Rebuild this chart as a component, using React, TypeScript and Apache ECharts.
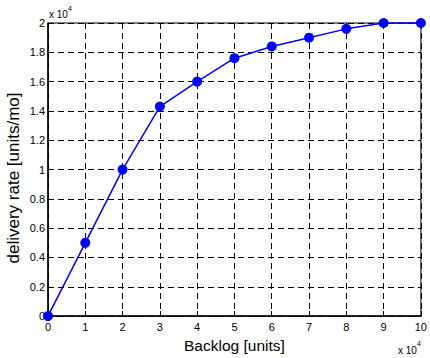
import React, { useEffect, useRef } from "react";
import * as echarts from "echarts";

const xTicks = [0, 1, 2, 3, 4, 5, 6, 7, 8, 9, 10];
const backlog = [0, 1, 2, 3, 4, 5, 6, 7, 8, 9, 10];
const deliveryRate = [0, 0.5, 1.0, 1.43, 1.6, 1.76, 1.84, 1.9, 1.96, 2.0, 2.0];

const FONT = "'Liberation Sans', Arial, Helvetica, sans-serif";

export default function App() {
  const ref = useRef<HTMLDivElement>(null);
  useEffect(() => {
    if (!ref.current) return;
    const chart = echarts.init(ref.current, null, { renderer: "svg" });
    const dash = { color: "#000", width: 1, type: [6, 4] as any };
    const txt = (text: string, x: number, y: number, size: number, extra: any = {}) => ({
      type: "text",
      x,
      y,
      style: {
        text,
        fontSize: size,
        fontFamily: FONT,
        fill: "#000",
        textAlign: "left",
        textVerticalAlign: "middle",
        ...extra,
      },
    });
    chart.setOption({
      animation: false,
      backgroundColor: "#fff",
      textStyle: { fontFamily: FONT },
      grid: {
        left: 48,
        right: 8,
        top: 23,
        bottom: 40,
        show: true,
        borderColor: "#000",
        borderWidth: 1,
        backgroundColor: "transparent",
      },
      xAxis: {
        type: "value",
        min: 0,
        max: 10,
        interval: 1,
        name: "Backlog [units]",
        nameLocation: "middle",
        nameGap: 18,
        nameTextStyle: { fontSize: 15.5, color: "#000", fontFamily: FONT },
        axisLine: { show: true, lineStyle: { color: "#000", width: 1.5 } },
        axisTick: { show: true, inside: true, length: 5, lineStyle: { color: "#000" } },
        axisLabel: { fontSize: 11, color: "#000", margin: 5, fontFamily: FONT },
        splitLine: { show: true, lineStyle: dash },
      },
      yAxis: {
        type: "value",
        min: 0,
        max: 2,
        interval: 0.2,
        axisLine: { show: true, lineStyle: { color: "#000", width: 1.5 } },
        axisTick: { show: true, inside: true, length: 5, lineStyle: { color: "#000" } },
        axisLabel: {
          fontSize: 11,
          color: "#000",
          margin: 3,
          fontFamily: FONT,
          formatter: (v: number) => String(Math.round(v * 10) / 10),
        },
        splitLine: { show: true, lineStyle: dash },
      },
      graphic: [
        txt("x 10", 49, 14, 10),
        txt("4", 68, 8, 7),
        txt("x 10", 398, 350, 10),
        txt("4", 417, 343, 7),
        {
          type: "text",
          x: 13,
          y: 178,
          rotation: Math.PI / 2,
          style: {
            text: "delivery rate [units/mo]",
            fontSize: 17,
            fontFamily: FONT,
            fill: "#000",
            textAlign: "center",
            textVerticalAlign: "middle",
          },
        },
      ],
      series: [
        {
          type: "line",
          data: backlog.map((x, i) => [x, deliveryRate[i]]),
          symbol: "circle",
          symbolSize: 10,
          clip: false,
          lineStyle: { color: "#0000ff", width: 1.5 },
          itemStyle: { color: "#0000ff" },
        },
      ],
    });
    void xTicks;
    return () => chart.dispose();
  }, []);
  return <div ref={ref} style={{ width: 430, height: 358, position: "absolute", left: 0, top: 0 }} />;
}
